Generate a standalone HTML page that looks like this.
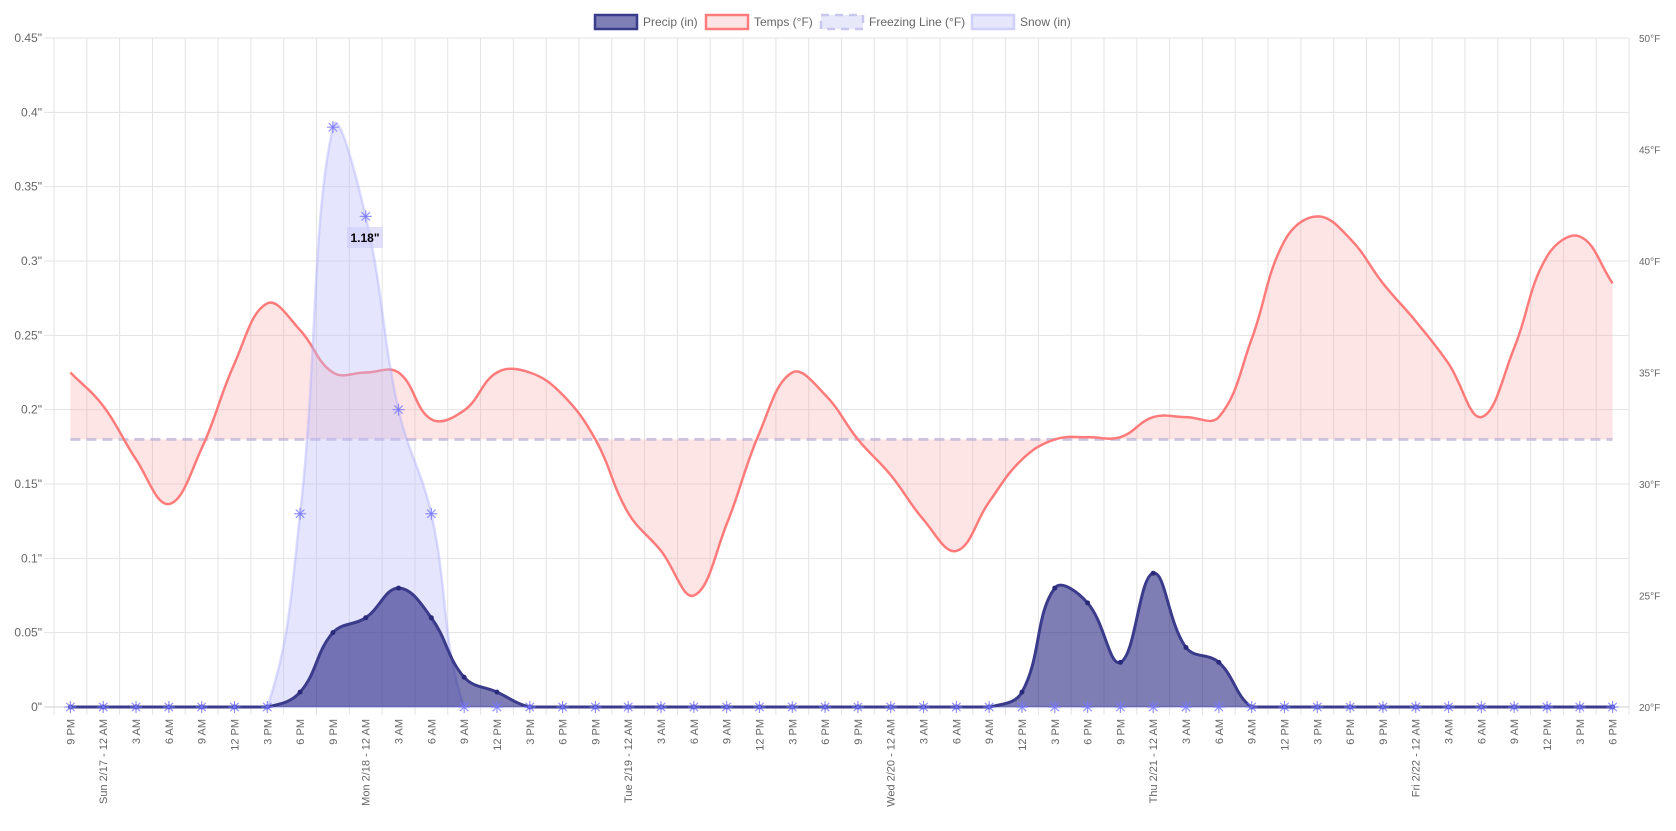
<!DOCTYPE html>
<html><head><meta charset="utf-8"><style>
html,body{margin:0;padding:0;background:#fff;}
svg{display:block;font-family:"Liberation Sans",sans-serif;}
</style></head><body>
<svg id="chart" width="1676" height="831" viewBox="0 0 1676 831" xmlns="http://www.w3.org/2000/svg">
<g id="grid"></g>
<g id="legend">
  <g><rect x="595" y="15" width="42" height="14" fill="rgba(0,0,110,0.5)" stroke="#3b3b8b" stroke-width="2.5"/><text x="643" y="26" font-size="12" fill="#666">Precip (in)</text></g>
  <g><rect x="706" y="15" width="42" height="14" fill="#fde5e5" stroke="#ff7b7b" stroke-width="2.5"/><text x="754" y="26" font-size="12" fill="#666">Temps (°F)</text></g>
  <g><rect x="821" y="15" width="42" height="14" fill="#e8e8fb" stroke="#c8c8ee" stroke-width="2.5" stroke-dasharray="8,6"/><text x="869" y="26" font-size="12" fill="#666">Freezing Line (°F)</text></g>
  <g><rect x="972" y="15" width="42" height="14" fill="#e6e6fd" stroke="#d0d0fb" stroke-width="2.5"/><text x="1020" y="26" font-size="12" fill="#666">Snow (in)</text></g>
</g>
<g id="series"></g>
<g id="axes"></g>
<g><rect x="347" y="227" width="36" height="21" fill="rgba(205,205,250,0.6)"/><text x="365" y="242" text-anchor="middle" font-size="12" font-weight="bold" fill="#000">1.18"</text></g>
</svg>
<script>
const labels=["9 PM","Sun 2/17 - 12 AM","3 AM","6 AM","9 AM","12 PM","3 PM","6 PM","9 PM","Mon 2/18 - 12 AM","3 AM","6 AM","9 AM","12 PM","3 PM","6 PM","9 PM","Tue 2/19 - 12 AM","3 AM","6 AM","9 AM","12 PM","3 PM","6 PM","9 PM","Wed 2/20 - 12 AM","3 AM","6 AM","9 AM","12 PM","3 PM","6 PM","9 PM","Thu 2/21 - 12 AM","3 AM","6 AM","9 AM","12 PM","3 PM","6 PM","9 PM","Fri 2/22 - 12 AM","3 AM","6 AM","9 AM","12 PM","3 PM","6 PM"];
const temps=[35,33.5,31.1,29.1,31.6,35.4,38.1,36.9,35,35,35,32.9,33.3,35,35,34,32,28.7,27,25,28.2,32.3,35,34,32,30.4,28.4,27,29.2,31.1,32,32.1,32.1,33,33,33,36.5,40.9,42,41,39,37.3,35.4,33,36.1,40.2,41.1,39];
const precip=[0,0,0,0,0,0,0,0.01,0.05,0.06,0.08,0.06,0.02,0.01,0,0,0,0,0,0,0,0,0,0,0,0,0,0,0,0.01,0.08,0.07,0.03,0.09,0.04,0.03,0,0,0,0,0,0,0,0,0,0,0,0];
const snow=[0,0,0,0,0,0,0,0.13,0.39,0.33,0.2,0.13,0,0,0,0,0,0,0,0,0,0,0,0,0,0,0,0,0,0,0,0,0,0,0,0,0,0,0,0,0,0,0,0,0,0,0,0];
const freezing=32;
const leftTicks=[0,0.05,0.1,0.15,0.2,0.25,0.3,0.35,0.4,0.45];
const rightTicks=[20,25,30,35,40,45,50];
const L=54,R=1629,T=38,B=707,N=labels.length,bw=(R-L)/N;
const NS="http://www.w3.org/2000/svg";
const xS=i=>L+bw*(i+0.5);
const yP=v=>B-v/0.45*(B-T);
const yT=v=>B-(v-20)/30*(B-T);
function mk(tag,at,parent){const e=document.createElementNS(NS,tag);for(const k in at)e.setAttribute(k,at[k]);parent.appendChild(e);return e;}
function spline(pts){
  let d="M"+pts[0][0]+","+pts[0][1];const t=0.4;
  const cps=pts.map((c,i)=>{const p=pts[Math.max(i-1,0)],n=pts[Math.min(i+1,pts.length-1)];
    const d01=Math.hypot(c[0]-p[0],c[1]-p[1]),d12=Math.hypot(n[0]-c[0],n[1]-c[1]);
    let s01=d01/(d01+d12)||0,s12=d12/(d01+d12)||0;const fa=t*s01,fb=t*s12;
    return [[c[0]-fa*(n[0]-p[0]),Math.min(B,Math.max(T,c[1]-fa*(n[1]-p[1])))],[c[0]+fb*(n[0]-p[0]),Math.min(B,Math.max(T,c[1]+fb*(n[1]-p[1])))]];});
  for(let i=1;i<pts.length;i++){const a=cps[i-1][1],b=cps[i][0];d+=" C"+a[0]+","+a[1]+" "+b[0]+","+b[1]+" "+pts[i][0]+","+pts[i][1];}
  return d;}
const grid=document.getElementById('grid'),axes=document.getElementById('axes'),ser=document.getElementById('series');
for(let i=0;i<=N;i++){const x=L+bw*i;
  const g=mk('line',{x1:x,y1:T,x2:x,y2:B+8,stroke:'#e3e3e3','stroke-width':1},grid);
  
  }
leftTicks.forEach(v=>{const y=yP(v);
  const g=mk('line',{x1:L-10,y1:y,x2:R,y2:y,stroke:v===0?'#cfcfcf':'#e3e3e3','stroke-width':1},grid);
  
  
  const t=mk('text',{x:L-12,y:y+4,'text-anchor':'end','font-size':12,fill:'#666'},axes);t.textContent=v+'"';
  
  });
rightTicks.forEach(v=>{const y=yT(v);
  const t=mk('text',{x:R+10,y:y+4,'font-size':10,fill:'#666'},axes);t.textContent=v+'°F';
  
  });
labels.forEach((s,i)=>{const x=xS(i)+4;
  const t=mk('text',{x:0,y:0,transform:`translate(${x},${B+12}) rotate(-90)`,'text-anchor':'end','font-size':11,fill:'#666'},axes);t.textContent=s;
  
  });
// temps fill to freezing line
const tp=temps.map((v,i)=>[xS(i),yT(v)]);
const tpath=spline(tp);
const fy=yT(freezing);
const tf=mk('path',{d:tpath+` L${xS(N-1)},${fy} L${xS(0)},${fy} Z`,fill:'rgba(250,150,150,0.25)'},ser);


const fl=mk('line',{x1:xS(0),y1:fy,x2:xS(N-1),y2:fy,stroke:'rgba(190,180,215,0.75)','stroke-width':3,'stroke-dasharray':'10,6'},ser);


const tl=mk('path',{d:tpath,fill:'none',stroke:'#ff7b7b','stroke-width':2.5},ser);


// snow
const sp=snow.map((v,i)=>[xS(i),yP(v)]);const spath=spline(sp);
const sa=mk('path',{d:spath+` L${xS(N-1)},${B} L${xS(0)},${B} Z`,fill:'rgba(190,190,250,0.4)',stroke:'rgba(160,160,255,0.35)','stroke-width':2.5},ser);


// precip
const pp=precip.map((v,i)=>[xS(i),yP(v)]);const ppath=spline(pp);
const pa=mk('path',{d:ppath+` L${xS(N-1)},${B} L${xS(0)},${B} Z`,fill:'rgba(20,20,120,0.55)'},ser);


const pl=mk('path',{d:ppath,fill:'none',stroke:'#3b3b8b','stroke-width':3},ser);


pp.forEach(p=>{const c=mk('circle',{cx:p[0],cy:p[1],r:2.5,fill:'#2a2a7a'},ser);
  
  });
sp.forEach(p=>{const g=mk('g',{stroke:'rgba(120,120,255,0.8)','stroke-width':1.2},ser);
  
  
  const r=6;
  mk('line',{x1:p[0]-r,y1:p[1],x2:p[0]+r,y2:p[1]},g);
  mk('line',{x1:p[0],y1:p[1]-r,x2:p[0],y2:p[1]+r},g);
  mk('line',{x1:p[0]-r*0.7,y1:p[1]-r*0.7,x2:p[0]+r*0.7,y2:p[1]+r*0.7},g);
  mk('line',{x1:p[0]-r*0.7,y1:p[1]+r*0.7,x2:p[0]+r*0.7,y2:p[1]-r*0.7},g);});
</script>
</body></html>
